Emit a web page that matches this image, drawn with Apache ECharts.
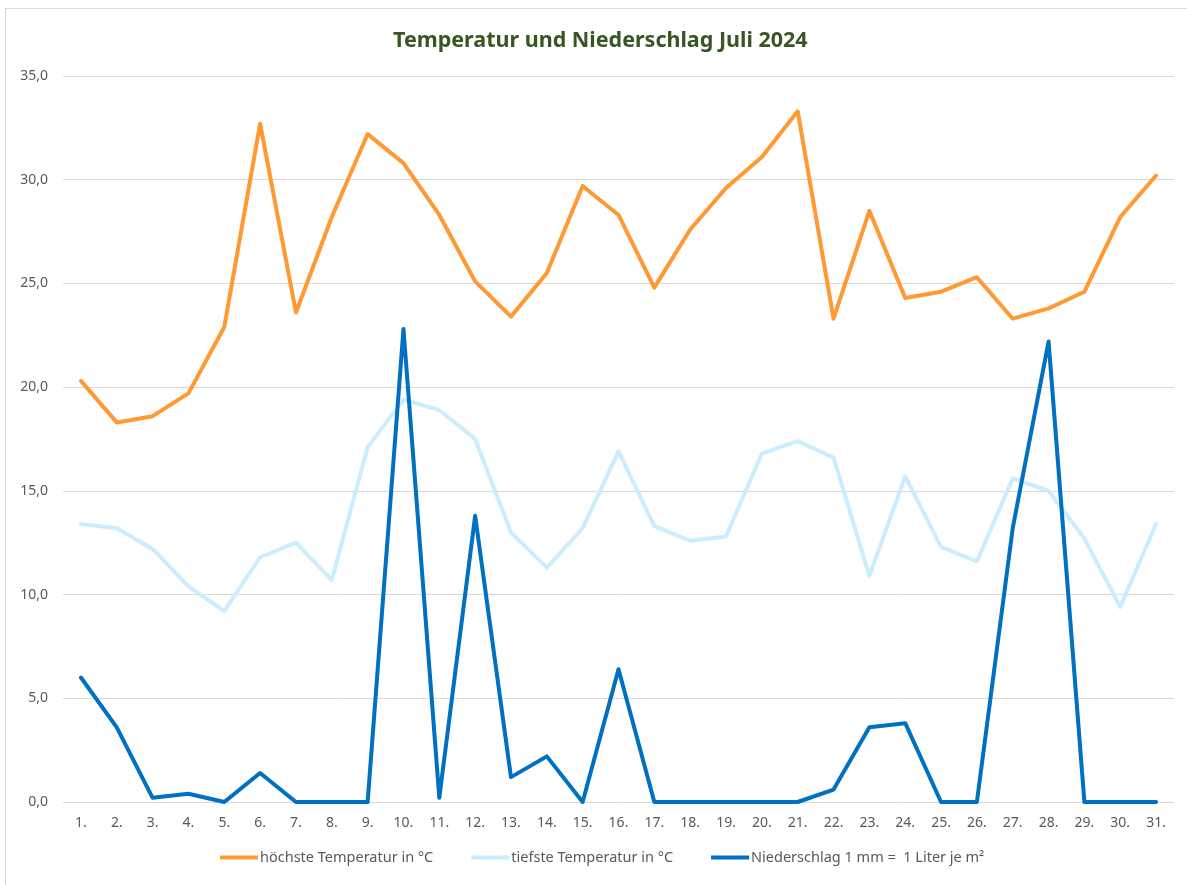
<!DOCTYPE html>
<html>
<head>
<meta charset="utf-8">
<script src="https://cdn.jsdelivr.net/npm/echarts@6/dist/echarts.min.js"></script>
<style>
  html, body { margin: 0; padding: 0; background: #fff; }
  #frame { position: absolute; left: 5px; top: 8px; width: 1190px; height: 890px; border: 1px solid #D9D9D9; }
  #chart { position: absolute; left: 0; top: 0; width: 1187px; height: 885px; }
</style>
</head>
<body>
<div id="frame"></div>
<div id="chart"></div>
<script>
// Tage im Juli
const days = ['1.', '2.', '3.', '4.', '5.', '6.', '7.', '8.', '9.', '10.', '11.', '12.', '13.', '14.', '15.', '16.',
  '17.', '18.', '19.', '20.', '21.', '22.', '23.', '24.', '25.', '26.', '27.', '28.', '29.', '30.', '31.']

// höchste Temperatur in °C
const maxTemp = [20.3, 18.3, 18.6, 19.7, 22.9, 32.7, 23.6, 28.2, 32.2, 30.8, 28.3, 25.1, 23.4, 25.5, 29.7, 28.3,
  24.8, 27.6, 29.6, 31.1, 33.3, 23.3, 28.5, 24.3, 24.6, 25.3, 23.3, 23.8, 24.6, 28.2, 30.2]

// tiefste Temperatur in °C
const minTemp = [13.4, 13.2, 12.2, 10.4, 9.2, 11.8, 12.5, 10.7, 17.1, 19.4, 18.9, 17.5, 13.0, 11.3, 13.2, 16.9,
  13.3, 12.6, 12.8, 16.8, 17.4, 16.6, 10.9, 15.7, 12.3, 11.6, 15.6, 15.0, 12.7, 9.4, 13.4]

// Niederschlag in mm
const rain = [6.0, 3.6, 0.2, 0.4, 0.0, 1.4, 0.0, 0.0, 0.0, 22.8, 0.2, 13.8, 1.2, 2.2, 0.0, 6.4,
  0.0, 0.0, 0.0, 0.0, 0.0, 0.6, 3.6, 3.8, 0.0, 0.0, 13.2, 22.2, 0.0, 0.0, 0.0]

const seriesNames = ['höchste Temperatur in °C', 'tiefste Temperatur in °C', 'Niederschlag 1 mm =  1 Liter je m²']

const font = "'Noto Sans', 'Open Sans', sans-serif"

const chart = echarts.init(document.getElementById('chart'))

function lineSeries(name, data, color) {
  return {
    name: name,
    type: 'line',
    data: data,
    symbol: 'none',
    smooth: false,
    lineStyle: { color: color, width: 4, cap: 'round', join: 'round' },
    itemStyle: { color: color },
    emphasis: { disabled: true }
  }
}

chart.setOption({
  animation: false,
  backgroundColor: 'transparent',
  textStyle: { fontFamily: font },
  title: {
    text: 'Temperatur und Niederschlag Juli 2024',
    left: 388,
    top: 25,
    textStyle: { color: '#375623', fontSize: 21.5, fontWeight: 'bold', fontFamily: font }
  },
  legend: {
    bottom: 15,
    left: 215,
    itemWidth: 38,
    itemHeight: 4,
    itemGap: 38,
    icon: 'rect',
    textStyle: { color: '#595959', fontSize: 14.5, padding: [0, 0, 0, -3] },
    data: seriesNames
  },
  grid: { left: 63, right: 13, top: 76, bottom: 83 },
  xAxis: {
    type: 'category',
    data: days,
    boundaryGap: true,
    axisLine: { show: false },
    axisTick: { show: false },
    axisLabel: { color: '#595959', fontSize: 14, margin: 14 }
  },
  yAxis: {
    type: 'value',
    min: 0,
    max: 35,
    interval: 5,
    axisLine: { show: false },
    axisTick: { show: false },
    splitLine: { lineStyle: { color: '#D9D9D9', width: 1 } },
    axisLabel: {
      color: '#595959',
      fontSize: 14,
      margin: 15,
      formatter: v => v.toFixed(1).replace('.', ',')
    }
  },
  series: [
    lineSeries(seriesNames[0], maxTemp, '#FF9933'),
    lineSeries(seriesNames[1], minTemp, '#CCECFF'),
    lineSeries(seriesNames[2], rain, '#0070C0')
  ]
})
</script>
</body>
</html>
